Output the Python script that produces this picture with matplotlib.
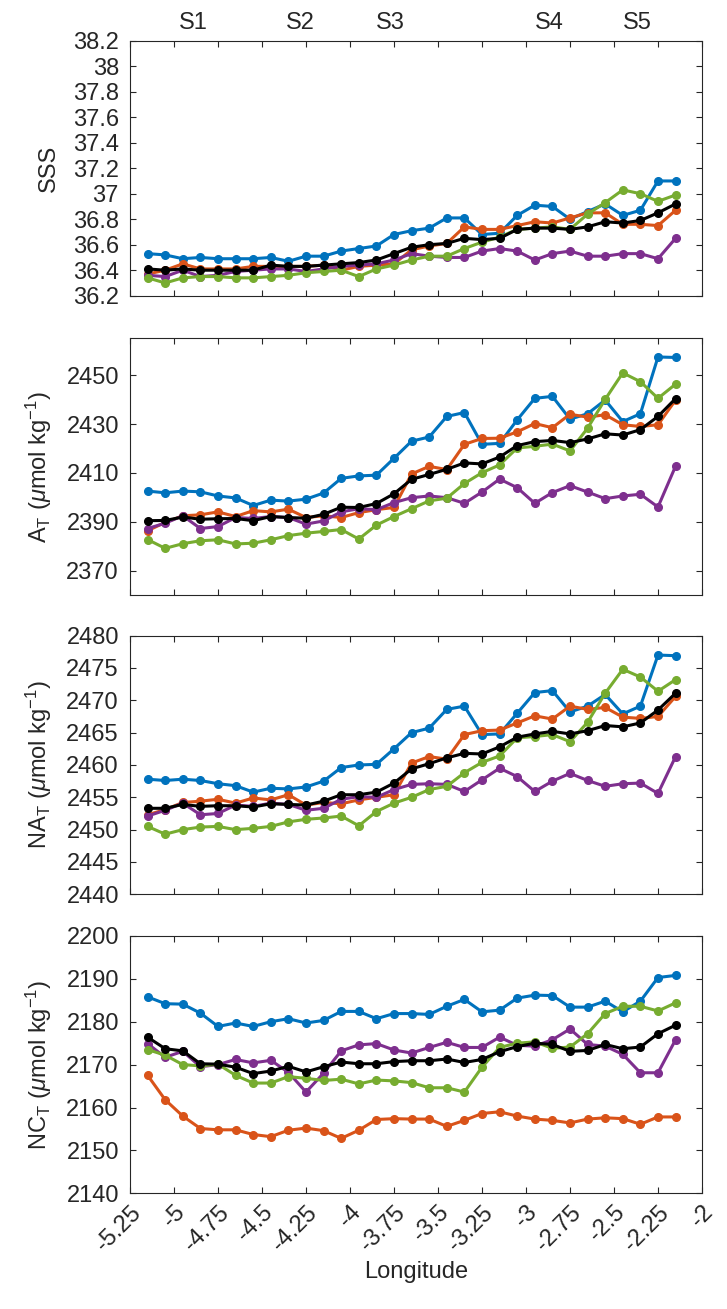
import numpy as np
import matplotlib
matplotlib.use("Agg")
import matplotlib.pyplot as plt
from matplotlib.ticker import FormatStrFormatter

# surface salinity and carbonate system along the transect, one line per survey
# plus the mean (black). 31 stations, every 0.1 deg of longitude.

lon = np.round(np.arange(-5.15, -2.149, 0.1), 2)

sss_blue = [36.53, 36.52, 36.49, 36.50, 36.49, 36.49, 36.49, 36.50, 36.47, 36.51, 36.51,
            36.55, 36.57, 36.59, 36.68, 36.71, 36.73, 36.81, 36.81, 36.68, 36.69, 36.83,
            36.91, 36.90, 36.80, 36.86, 36.92, 36.83, 36.87, 37.10, 37.10]
sss_orange = [36.37, 36.40, 36.45, 36.41, 36.41, 36.41, 36.43, 36.43, 36.43, 36.43, 36.44,
              36.40, 36.43, 36.44, 36.45, 36.56, 36.59, 36.61, 36.74, 36.72, 36.72, 36.75,
              36.78, 36.77, 36.81, 36.85, 36.85, 36.76, 36.76, 36.75, 36.87]
sss_green = [36.34, 36.30, 36.34, 36.35, 36.35, 36.34, 36.34, 36.35, 36.36, 36.38, 36.39,
             36.40, 36.35, 36.41, 36.44, 36.48, 36.51, 36.51, 36.57, 36.62, 36.66, 36.72,
             36.73, 36.74, 36.72, 36.84, 36.93, 37.03, 37.00, 36.94, 36.99]
sss_purple = [36.36, 36.35, 36.40, 36.35, 36.36, 36.39, 36.40, 36.41, 36.41, 36.39, 36.41,
              36.43, 36.44, 36.45, 36.48, 36.53, 36.51, 36.50, 36.50, 36.55, 36.57, 36.55,
              36.48, 36.53, 36.55, 36.51, 36.51, 36.53, 36.53, 36.49, 36.65]
sss_mean = [36.41, 36.40, 36.41, 36.40, 36.40, 36.40, 36.40, 36.44, 36.43, 36.43, 36.44,
            36.45, 36.46, 36.48, 36.53, 36.58, 36.60, 36.61, 36.65, 36.64, 36.65, 36.72,
            36.73, 36.73, 36.72, 36.74, 36.78, 36.77, 36.79, 36.85, 36.92]

at_blue = [2402.6, 2401.9, 2402.6, 2402.3, 2400.6, 2399.8, 2396.7, 2398.9, 2398.5, 2399.3, 2401.8,
           2407.8, 2408.8, 2409.1, 2416.0, 2423.0, 2424.7, 2433.1, 2434.7, 2421.7, 2422.1, 2431.7,
           2440.5, 2441.3, 2432.0, 2434.2, 2439.8, 2431.0, 2434.2, 2457.4, 2457.2]
at_orange = [2386.4, 2389.8, 2392.5, 2392.9, 2394.1, 2392.2, 2394.6, 2394.1, 2395.2, 2391.8, 2392.5,
             2391.8, 2393.8, 2395.0, 2395.9, 2409.6, 2412.7, 2411.4, 2421.7, 2424.1, 2424.2, 2426.8,
             2430.2, 2428.5, 2434.0, 2432.8, 2433.8, 2429.7, 2429.0, 2429.7, 2439.8]
at_green = [2382.8, 2379.2, 2381.1, 2382.3, 2382.7, 2381.0, 2381.3, 2382.7, 2384.4, 2385.4, 2386.1,
            2386.9, 2383.0, 2388.7, 2392.2, 2395.4, 2398.6, 2399.7, 2405.7, 2410.1, 2413.3, 2420.2,
            2420.9, 2421.8, 2419.0, 2428.3, 2440.1, 2450.9, 2447.3, 2440.5, 2446.3]
at_purple = [2387.3, 2389.5, 2392.5, 2387.3, 2388.1, 2391.8, 2391.4, 2392.2, 2391.8, 2389.1, 2390.4,
             2394.1, 2395.4, 2395.0, 2397.9, 2399.9, 2400.6, 2399.9, 2397.6, 2402.2, 2407.5, 2404.0,
             2397.6, 2402.0, 2404.8, 2402.2, 2399.5, 2400.6, 2401.3, 2396.1, 2412.8]
at_mean = [2390.5, 2390.6, 2392.0, 2391.1, 2391.3, 2391.4, 2390.5, 2392.2, 2391.8, 2391.5, 2393.1,
           2396.0, 2395.9, 2397.5, 2401.5, 2407.4, 2409.4, 2411.5, 2414.1, 2413.7, 2416.5, 2421.2,
           2422.8, 2423.3, 2422.4, 2423.9, 2426.0, 2425.5, 2427.7, 2433.1, 2440.4]

nat_blue = [2457.8, 2457.6, 2457.8, 2457.6, 2457.1, 2456.8, 2455.8, 2456.4, 2456.3, 2456.6, 2457.5,
            2459.6, 2460.0, 2460.1, 2462.5, 2465.0, 2465.7, 2468.6, 2469.1, 2464.7, 2464.8, 2468.0,
            2471.2, 2471.5, 2468.2, 2469.1, 2470.9, 2467.9, 2469.1, 2477.0, 2476.9]
nat_orange = [2452.3, 2453.1, 2454.2, 2454.4, 2454.7, 2454.1, 2454.9, 2454.6, 2455.4, 2453.8, 2454.2,
              2454.0, 2454.6, 2455.0, 2455.4, 2460.3, 2461.3, 2460.9, 2464.7, 2465.3, 2465.4, 2466.5,
              2467.6, 2467.1, 2469.1, 2468.6, 2468.9, 2467.4, 2467.2, 2467.5, 2470.6]
nat_green = [2450.5, 2449.3, 2450.0, 2450.4, 2450.5, 2450.0, 2450.2, 2450.5, 2451.2, 2451.6, 2451.8,
             2452.1, 2450.6, 2452.8, 2454.1, 2455.0, 2456.2, 2456.7, 2458.8, 2460.4, 2461.4, 2464.2,
             2464.4, 2464.7, 2463.6, 2466.6, 2471.1, 2474.8, 2473.6, 2471.4, 2473.2]
nat_purple = [2452.1, 2453.0, 2454.1, 2452.3, 2452.5, 2453.8, 2453.6, 2454.1, 2453.9, 2453.0, 2453.3,
              2454.7, 2455.1, 2455.0, 2456.2, 2457.0, 2457.1, 2457.0, 2455.9, 2457.7, 2459.5, 2458.2,
              2455.9, 2457.5, 2458.7, 2457.6, 2456.7, 2457.1, 2457.2, 2455.6, 2461.3]
nat_mean = [2453.3, 2453.3, 2453.9, 2453.6, 2453.7, 2453.7, 2453.5, 2454.0, 2453.9, 2453.8, 2454.4,
            2455.4, 2455.4, 2455.8, 2457.2, 2459.4, 2460.2, 2461.1, 2461.8, 2461.7, 2462.8, 2464.3,
            2464.8, 2465.2, 2464.8, 2465.3, 2466.1, 2465.9, 2466.5, 2468.5, 2471.1]

nct_blue = [2185.8, 2184.2, 2184.1, 2182.0, 2178.9, 2179.7, 2178.9, 2180.0, 2180.7, 2179.7, 2180.3,
            2182.4, 2182.4, 2180.7, 2181.9, 2181.9, 2181.7, 2183.6, 2185.2, 2182.3, 2182.7, 2185.5,
            2186.2, 2186.1, 2183.4, 2183.4, 2184.8, 2182.3, 2184.8, 2190.3, 2190.8]
nct_orange = [2167.5, 2161.8, 2158.0, 2155.1, 2154.8, 2154.8, 2153.7, 2153.2, 2154.7, 2155.2, 2154.6,
              2152.8, 2154.7, 2157.2, 2157.4, 2157.3, 2157.3, 2155.6, 2157.0, 2158.6, 2159.0, 2158.0,
              2157.3, 2157.0, 2156.4, 2157.3, 2157.6, 2157.4, 2156.1, 2157.8, 2157.8]
nct_green = [2173.5, 2172.2, 2170.0, 2169.7, 2170.1, 2167.5, 2165.7, 2165.7, 2167.2, 2166.8, 2166.3,
             2166.6, 2165.5, 2166.4, 2166.2, 2165.8, 2164.6, 2164.6, 2163.6, 2169.4, 2174.0, 2175.0,
             2175.3, 2173.8, 2174.1, 2177.2, 2181.9, 2183.6, 2183.6, 2182.5, 2184.4]
nct_purple = [2174.9, 2171.7, 2173.1, 2169.5, 2170.0, 2171.2, 2170.4, 2171.0, 2168.2, 2163.6, 2168.0,
              2173.2, 2174.6, 2174.9, 2173.4, 2172.7, 2174.0, 2175.2, 2174.0, 2174.0, 2176.4, 2174.5,
              2174.3, 2175.8, 2178.3, 2174.7, 2174.3, 2172.4, 2168.1, 2168.1, 2175.8]
nct_mean = [2176.4, 2173.7, 2173.2, 2170.2, 2170.1, 2169.4, 2167.9, 2168.5, 2169.6, 2168.3, 2169.5,
            2170.6, 2170.2, 2170.2, 2170.7, 2170.9, 2170.9, 2171.3, 2170.5, 2171.2, 2173.0, 2174.2,
            2175.0, 2174.7, 2173.1, 2173.3, 2174.7, 2173.7, 2174.1, 2177.2, 2179.2]

# station names shown above the top panel
station_names = ["S1", "S2", "S3", "S4", "S5"]
station_lon = [-4.89, -4.28, -3.77, -2.87, -2.37]

xtick_vals = np.arange(-5.25, -1.99, 0.25)
xtick_labels = ["-5.25", "-5", "-4.75", "-4.5", "-4.25", "-4", "-3.75", "-3.5",
                "-3.25", "-3", "-2.75", "-2.5", "-2.25", "-2"]

# matlab default line colours
c_blue = "#0072BD"
c_orange = "#D95319"
c_green = "#77AC30"
c_purple = "#7E2F8E"

plt.rcParams["font.family"] = ["Liberation Sans", "DejaVu Sans"]
plt.rcParams["mathtext.fontset"] = "custom"
plt.rcParams["mathtext.rm"] = "Liberation Sans"
plt.rcParams["mathtext.it"] = "Liberation Sans:italic"
plt.rcParams["axes.unicode_minus"] = False

fig = plt.figure(figsize=(7.27, 13.09), dpi=100)

left, width = 0.1788, 0.7868
rects = [
    [left, 0.7741, width, 0.1948],
    [left, 0.5452, width, 0.1963],
    [left, 0.3168, width, 0.1976],
    [left, 0.0884, width, 0.1966],
]

panels = [
    ([sss_blue, sss_orange, sss_purple, sss_green, sss_mean], (36.2, 38.2),
     np.arange(36.2, 38.21, 0.2), "SSS"),
    ([at_blue, at_orange, at_purple, at_green, at_mean], (2360, 2465),
     np.arange(2370, 2451, 20), r"A$_\mathrm{T}$ ($\mu$mol kg$^{-1}$)"),
    ([nat_blue, nat_orange, nat_purple, nat_green, nat_mean], (2440, 2480),
     np.arange(2440, 2481, 5), r"NA$_\mathrm{T}$ ($\mu$mol kg$^{-1}$)"),
    ([nct_blue, nct_orange, nct_purple, nct_green, nct_mean], (2140, 2200),
     np.arange(2140, 2201, 10), r"NC$_\mathrm{T}$ ($\mu$mol kg$^{-1}$)"),
]
colors = [c_blue, c_orange, c_purple, c_green, "black"]

fs = 17
axc = "#262626"

axes = []
for rect, (series, ylim, yticks, ylab) in zip(rects, panels):
    ax = fig.add_axes(rect)
    for vals, c in zip(series, colors):
        ax.plot(lon, vals, "-o", color=c, lw=2.2, ms=5.5, mec=c)
    ax.set_xlim(-5.25, -2)
    ax.set_ylim(*ylim)
    ax.set_yticks(yticks)
    ax.yaxis.set_major_formatter(FormatStrFormatter("%g"))
    ax.set_xticks(xtick_vals)
    ax.set_xticklabels([])
    ax.tick_params(direction="in", top=True, right=True, length=4, width=0.8,
                   labelsize=fs, colors=axc, pad=8)
    for sp in ax.spines.values():
        sp.set_color(axc)
        sp.set_linewidth(0.8)
    ax.set_ylabel(ylab, fontsize=fs, color=axc, labelpad=9)
    axes.append(ax)

# station markers along the top
for name, x in zip(station_names, station_lon):
    axes[0].text(x, 1.069, name, transform=axes[0].get_xaxis_transform(),
                 ha="center", va="center", fontsize=fs, color=axc)

# only the bottom panel gets longitude labels
axes[-1].set_xticklabels(xtick_labels, rotation=45, ha="right", va="top",
                         rotation_mode="anchor")
axes[-1].tick_params(axis="x", pad=6)
axes[-1].set_xlabel("Longitude", fontsize=fs, color=axc, labelpad=4)

fig.savefig("out.png", dpi=100)
